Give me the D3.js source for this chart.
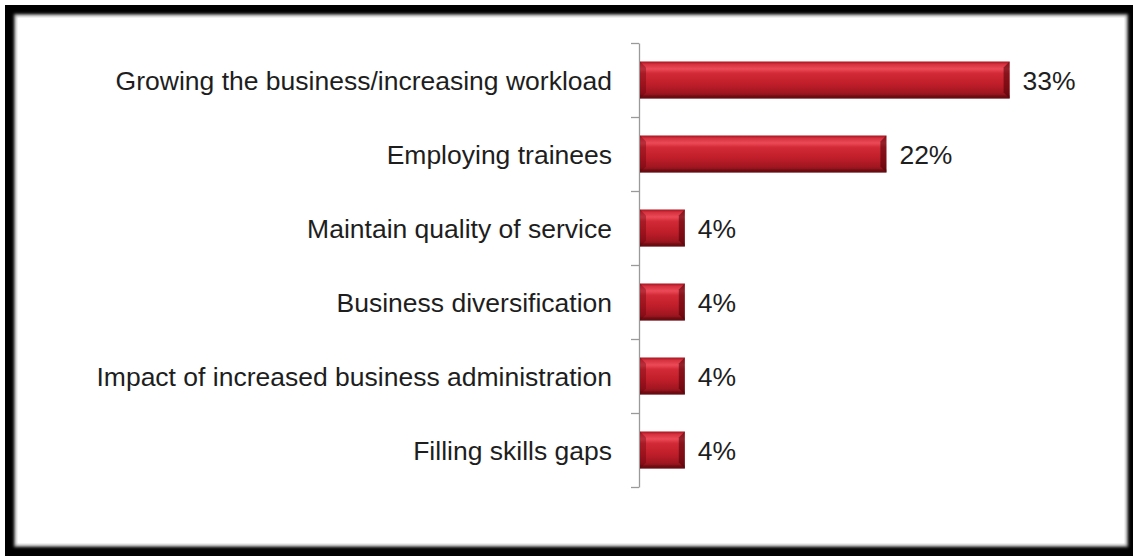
<!DOCTYPE html>
<html>
<head>
<meta charset="utf-8">
<script src="https://cdn.jsdelivr.net/npm/d3@7"></script>
<style>
  html, body { margin: 0; padding: 0; background: #fff; }
  svg { display: block; }
  text { font-family: "Liberation Sans", Arial, sans-serif; }
</style>
</head>
<body>
<svg id="chart" width="1133" height="556"></svg>
<script>
// Reasons given for recruiting
const categories = [
  "Growing the business/increasing workload",
  "Employing trainees",
  "Maintain quality of service",
  "Business diversification",
  "Impact of increased business administration",
  "Filling skills gaps"
];
const values = [33, 22, 4, 4, 4, 4];
const valueLabels = ["33%", "22%", "4%", "4%", "4%", "4%"];

const W = 1133, H = 556;
const svg = d3.select("#chart");
const defs = svg.append("defs");

// Framed panel: thick black border with a soft inner shadow
defs.append("filter").attr("id", "soft")
  .append("feGaussianBlur").attr("stdDeviation", 1.6);
svg.append("rect").attr("x", 5).attr("y", 5).attr("width", W - 5).attr("height", H - 5).attr("fill", "#000");
svg.append("rect").attr("x", 14).attr("y", 14).attr("width", 1114).attr("height", 533)
  .attr("fill", "#9a9a9a").attr("filter", "url(#soft)");
svg.append("rect").attr("x", 16).attr("y", 16).attr("width", 1110).attr("height", 529)
  .attr("fill", "#fff").attr("filter", "url(#soft)");
svg.append("rect").attr("x", 18).attr("y", 18).attr("width", 1106).attr("height", 525).attr("fill", "#fff");

// Scales
const y = d3.scaleBand().domain(categories).range([43, 487]).paddingInner(0.5).paddingOuter(0.25);
const x = d3.scaleLinear().domain([0, 35]).range([640, 1032]);

// Glossy red bar fill
const grad = defs.append("linearGradient").attr("id", "barGrad")
  .attr("x1", 0).attr("y1", 0).attr("x2", 0).attr("y2", 1);
[
  [0, "#a8141e"], [0.08, "#d63240"], [0.2, "#ec4a58"], [0.32, "#d22a36"],
  [0.6, "#c01e2a"], [0.85, "#a01620"], [1, "#6e0c12"]
].forEach(([o, c]) => grad.append("stop").attr("offset", o).attr("stop-color", c));

// Category axis with ticks on band boundaries
const tickScale = d3.scaleLinear().domain([0, categories.length]).range(y.range());
const axis = svg.append("g").attr("transform", `translate(${x(0) - 1},0)`)
  .call(d3.axisLeft(tickScale).tickValues(d3.range(categories.length + 1))
    .tickSize(8).tickSizeOuter(0).tickFormat(""));
axis.selectAll("path, line").attr("stroke", "#9a9a9a").attr("stroke-width", 1.3);

// Bars
const bars = svg.append("g").selectAll("g").data(categories).join("g");
bars.append("rect")
  .attr("x", x(0)).attr("y", d => y(d))
  .attr("width", (d, i) => x(values[i]) - x(0)).attr("height", y.bandwidth())
  .attr("fill", "url(#barGrad)");
const bev = 6;
// bevelled end caps
bars.append("polygon")
  .attr("points", (d, i) => {
    const x0 = x(0), y0 = y(d), y1 = y0 + y.bandwidth();
    return [[x0, y0], [x0 + bev, y0 + bev], [x0 + bev, y1 - bev], [x0, y1]].join(" ");
  })
  .attr("fill", "#5a0008").attr("opacity", 0.35);
bars.append("polygon")
  .attr("points", (d, i) => {
    const x1 = x(values[i]), y0 = y(d), y1 = y0 + y.bandwidth();
    return [[x1, y0], [x1 - bev, y0 + bev], [x1 - bev, y1 - bev], [x1, y1]].join(" ");
  })
  .attr("fill", "#4a0006").attr("opacity", 0.55);
bars.append("rect")
  .attr("x", x(0)).attr("y", d => y(d) + y.bandwidth() - 3)
  .attr("width", (d, i) => x(values[i]) - x(0)).attr("height", 3)
  .attr("fill", "#5a0a10").attr("opacity", 0.5);

// Category labels
svg.append("g").selectAll("text").data(categories).join("text")
  .attr("x", 612).attr("y", d => y(d) + y.bandwidth() / 2 + 10)
  .attr("text-anchor", "end").attr("font-size", 26.5).attr("fill", "#1e1e1e")
  .text(d => d);

// Value labels
svg.append("g").selectAll("text").data(categories).join("text")
  .attr("x", (d, i) => x(values[i]) + 13).attr("y", d => y(d) + y.bandwidth() / 2 + 10)
  .attr("font-size", 26.5).attr("fill", "#1e1e1e")
  .text((d, i) => valueLabels[i]);
</script>
</body>
</html>
